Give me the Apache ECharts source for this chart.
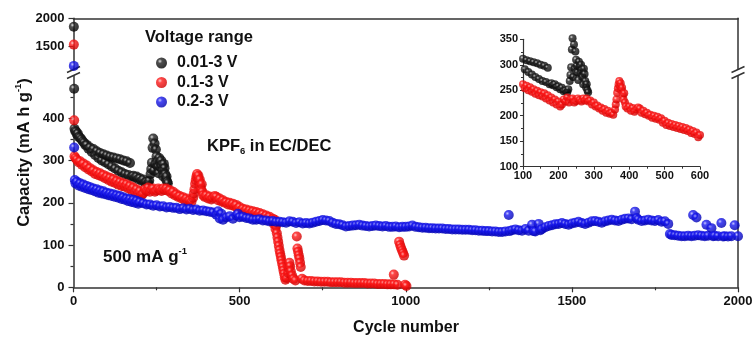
<!DOCTYPE html>
<html><head><meta charset="utf-8">
<script src="https://cdn.jsdelivr.net/npm/echarts@6/dist/echarts.min.js"></script>
<style>html,body{margin:0;padding:0;background:#fff}#c{width:756px;height:338px}</style>
</head><body><div id="c"></div>
<script>
// ---------- DATA ----------
const seriesNames = ['0.01-3 V', '0.1-3 V', '0.2-3 V'];

const blackData = [
[1,1850],[2,470],[3,375],[5,370],[8,368],[10,362],[13,364],[16,356],[20,354],[24,350],[28,345],[32,342],[36,336],[40,337],[45,328],[50,331],[55,320],[60,327],[65,313],[70,322],[75,306],[80,318],[85,300],[90,315],[95,296],[100,312],[105,291],[110,309],[115,286],[120,307],[125,281],[130,305],[135,276],[140,303],[145,272],[150,300],[155,268],[160,298],[165,266],[170,294],[175,262],[180,264],[185,260],[190,262],[195,256],[200,258],[205,252],[210,255],[215,248],[220,250],[225,246],[228,252],[232,268],[234,280],[236,295],[238,330],[240,352],[242,276],[244,340],[246,292],[248,326],[250,310],[252,298],[254,285],[256,270],[258,306],[260,296],[262,284],[264,300],[266,290],[268,276],[270,262],[272,292],[274,282],[276,268],[278,256],[280,262],[282,250],[284,246]
];

const redData = [
[1,1530],[2,395],[3,310],[6,306],[10,302],[15,296],[20,298],[25,290],[30,293],[35,284],[40,288],[45,279],[50,282],[55,274],[60,277],[65,268],[70,273],[75,265],[80,270],[85,262],[90,266],[95,258],[100,262],[105,254],[110,259],[115,250],[120,256],[125,247],[130,252],[135,243],[140,249],[145,240],[150,246],[155,238],[160,244],[165,234],[170,240],[175,230],[180,236],[185,226],[190,232],[195,222],[200,228],[205,218],[210,222],[215,232],[220,228],[225,236],[230,226],[235,232],[240,234],[245,226],[250,229],[255,234],[260,231],[265,228],[270,234],[275,230],[280,234],[285,228],[290,230],[295,222],[300,226],[305,218],[310,220],[315,214],[320,216],[325,210],[330,213],[335,206],[340,210],[345,204],[350,206],[355,202],[360,212],[362,222],[364,232],[366,245],[368,254],[370,262],[372,268],[374,258],[376,264],[378,250],[380,255],[382,240],[384,232],[386,244],[388,226],[390,218],[395,214],[400,218],[405,210],[410,215],[415,208],[420,212],[425,216],[430,214],[435,206],[440,210],[445,203],[450,206],[455,200],[460,202],[465,196],[470,200],[475,194],[480,198],[485,192],[490,195],[495,186],[500,190],[505,182],[510,186],[515,180],[520,184],[525,178],[530,182],[535,176],[540,180],[545,174],[550,178],[555,172],[560,176],[565,170],[570,173],[575,166],[580,170],[585,164],[590,167],[595,158],[600,162],[603,150],[606,160],[608,138],[610,146],[612,128],[614,118],[616,108],[618,98],[620,88],[622,80],[624,72],[626,64],[628,56],[630,48],[632,40],[634,32],[636,24],[638,18],[642,22],[646,34],[648,46],[650,58],[652,50],[654,38],[658,28],[662,20],[668,16],[672,120],[674,92],[676,84],[678,76],[680,68],[682,58],[684,48],[688,20],[695,16],[705,15],[715,15],[725,14],[735,14],[745,13],[755,13],[765,13],[775,12],[785,12],[795,12],[805,12],[815,11],[825,11],[835,11],[845,10],[855,10],[865,10],[875,10],[885,9],[895,9],[905,9],[915,8],[925,8],[935,8],[945,7],[955,7],[964,30],[965,7],[975,6],[980,108],[983,100],[986,93],[989,87],[992,81],[995,75],[998,6],[1002,3]
];

const blueData = [
[1,1150],[2,331],[4,254],[6,246],[10,250],[15,241],[20,246],[25,238],[30,243],[35,235],[40,240],[45,232],[50,237],[55,230],[60,234],[65,227],[70,232],[75,224],[80,229],[85,222],[90,227],[95,220],[100,224],
[105,218],[110,222],[115,216],[120,220],[125,214],[130,218],[135,212],[140,216],[145,209],[150,213],[155,207],[160,210],[165,204],[170,209],[175,202],[180,207],[185,200],[190,205],[195,198],[200,202],
[210,199],[220,196],[230,196],[240,193],[250,194],[260,191],[270,192],[280,189],[290,190],[300,188],
[310,188],[320,185],[330,187],[340,184],[350,186],[360,183],[370,184],[380,181],[390,182],[400,180],
[410,179],[420,177],[430,172],[435,180],[440,163],[445,174],[450,160],[460,165],[470,168],[480,162],[490,170],[495,174],[500,166],
[510,167],[520,164],[530,163],[540,160],[550,160],[560,161],[570,158],[580,158],[590,156],[600,157],
[610,155],[620,155],[630,154],[640,153],[650,156],[660,155],[670,152],[680,154],[690,151],[700,152],
[710,151],[720,153],[730,155],[740,157],[750,159],[760,158],[770,157],[780,153],[790,150],[800,149],
[810,147],[820,144],[830,145],[840,146],[850,147],[860,148],[870,146],[880,145],[890,144],[900,145],
[910,146],[920,145],[930,144],[940,145],[950,143],[960,143],[970,144],[980,142],[990,143],[1000,143],
[1010,144],[1020,146],[1030,143],[1040,142],[1050,141],[1060,141],[1070,140],[1080,140],[1090,139],[1100,139],
[1110,139],[1120,138],[1130,138],[1140,137],[1150,137],[1160,137],[1170,136],[1180,136],[1190,136],[1200,135],
[1210,135],[1220,134],[1230,134],[1240,133],[1250,133],[1260,132],[1270,132],[1280,131],[1290,131],[1300,132],
[1310,171],[1312,133],[1320,135],[1330,137],[1340,135],[1350,134],[1360,138],[1370,134],[1380,148],[1385,133],[1390,132],[1400,150],[1405,135],
[1410,138],[1420,142],[1430,145],[1440,147],[1450,149],[1460,150],[1470,152],[1480,150],[1490,148],[1500,151],
[1510,153],[1520,155],[1530,152],[1540,150],[1550,153],[1560,156],[1570,157],[1580,155],[1590,153],[1600,156],
[1610,158],[1620,160],[1630,158],[1640,157],[1650,160],[1660,162],[1670,163],[1680,161],[1690,179],[1695,164],[1700,160],
[1710,157],[1720,158],[1730,160],[1740,158],[1750,157],[1760,159],[1770,155],[1780,156],[1790,150],[1795,126],
[1800,124],[1810,123],[1820,122],[1830,121],[1840,121],[1850,122],[1860,121],[1865,171],[1870,122],[1875,165],[1880,123],[1890,122],[1900,121],[1905,148],
[1910,122],[1920,140],[1925,121],[1930,122],[1940,121],[1950,152],[1955,120],[1960,121],[1970,120],[1980,121],[1990,147],[2000,121]
];

const xTickLabels = [0, 500, 1000, 1500, 2000];
const yLowLabels = [0, 100, 200, 300, 400];
const yHighLabels = [1500, 2000];

// ---------- STYLE ----------
const FONT = '"Liberation Sans", Arial, sans-serif';
const AX = '#333';
const TXT = '#111';
function ball(hi, c, dark) {
  return new echarts.graphic.RadialGradient(0.36, 0.34, 0.66, [
    {offset: 0, color: hi}, {offset: 0.3, color: c}, {offset: 1, color: dark}
  ]);
}
const fills = [
  ball('#d8d8d8', '#222', '#000'),
  ball('#ffc0c0', '#ff1a1a', '#d00000'),
  ball('#b8b8ff', '#1818f0', '#0000b0')
];
const datas = [blackData, redData, blueData];
const plain = v => String(v);

const lineStyle = {color: AX, width: 1.5};
const lbl = {fontSize: 13, fontWeight: 'bold', color: TXT, fontFamily: FONT, formatter: plain};

const series = [];
datas.forEach((d, i) => series.push({
  type: 'scatter', name: seriesNames[i], xAxisIndex: 0, yAxisIndex: 0, clip: false,
  symbolSize: 10, itemStyle: {color: fills[i]},
  data: d.filter(p => p[1] < 1000)
}));
datas.forEach((d, i) => series.push({
  type: 'scatter', name: seriesNames[i], xAxisIndex: 1, yAxisIndex: 2, clip: false,
  symbolSize: 10, itemStyle: {color: fills[i]},
  data: d.filter(p => p[1] >= 1000)
}));
datas.forEach((d, i) => series.push({
  type: 'scatter', name: seriesNames[i], xAxisIndex: 2, yAxisIndex: 4, clip: false,
  symbolSize: 8, itemStyle: {color: fills[i]},
  data: d.filter(p => p[1] < 1000 && p[0] >= 100 && p[0] <= 600 && i < 2)
}));

const option = {
  animation: false,
  backgroundColor: '#fff',
  grid: [
    {left: 73.5, top: 76, width: 664.5, height: 211.3},
    {left: 73.5, top: 18.3, width: 664.5, height: 50.4},
    {left: 523, top: 39.3, width: 177, height: 127.4}
  ],
  xAxis: [
    {gridIndex: 0, type: 'value', min: 0, max: 2000, interval: 500, position: 'bottom',
     axisLine: {show: true, onZero: false, lineStyle},
     axisTick: {show: true, length: 5, lineStyle: {color: AX, width: 1.2}},
     minorTick: {show: true, splitNumber: 2, length: 3, lineStyle: {color: AX, width: 1.2}},
     axisLabel: Object.assign({margin: 8, customValues: xTickLabels}, lbl),
     splitLine: {show: false}},
    {gridIndex: 1, type: 'value', min: 0, max: 2000, position: 'top',
     axisLine: {show: true, onZero: false, lineStyle},
     axisTick: {show: false}, axisLabel: {show: false}, splitLine: {show: false}},
    {gridIndex: 2, type: 'value', min: 100, max: 600, interval: 100, position: 'bottom',
     axisLine: {show: true, onZero: false, lineStyle: {color: AX, width: 1.2}},
     axisTick: {show: true, length: 3, lineStyle: {color: AX, width: 1}},
     minorTick: {show: true, splitNumber: 2, length: 2, lineStyle: {color: AX, width: 1}},
     axisLabel: {margin: 4, fontSize: 11, fontWeight: 'bold', color: TXT, fontFamily: FONT, formatter: plain},
     splitLine: {show: false}}
  ],
  yAxis: [
    {gridIndex: 0, type: 'value', min: 0, max: 500, interval: 100, position: 'left',
     axisLine: {show: true, onZero: false, lineStyle},
     axisTick: {show: true, length: 5, customValues: yLowLabels, lineStyle: {color: AX, width: 1.2}},
     minorTick: {show: true, splitNumber: 2, length: 3, lineStyle: {color: AX, width: 1.2}},
     axisLabel: Object.assign({margin: 9, customValues: yLowLabels}, lbl),
     splitLine: {show: false}},
    {gridIndex: 0, type: 'value', min: 0, max: 500, position: 'right',
     axisLine: {show: true, onZero: false, lineStyle},
     axisTick: {show: false}, axisLabel: {show: false}, splitLine: {show: false}},
    {gridIndex: 1, type: 'value', min: 1100, max: 2000, position: 'left',
     axisLine: {show: true, onZero: false, lineStyle},
     axisTick: {show: true, length: 5, customValues: yHighLabels, lineStyle: {color: AX, width: 1.2}},
     axisLabel: Object.assign({margin: 9, customValues: yHighLabels}, lbl),
     splitLine: {show: false}},
    {gridIndex: 1, type: 'value', min: 1100, max: 2000, position: 'right',
     axisLine: {show: true, onZero: false, lineStyle},
     axisTick: {show: false}, axisLabel: {show: false}, splitLine: {show: false}},
    {gridIndex: 2, type: 'value', min: 100, max: 350, interval: 50, position: 'left',
     axisLine: {show: true, onZero: false, lineStyle: {color: AX, width: 1.2}},
     axisTick: {show: true, length: 3, lineStyle: {color: AX, width: 1}},
     minorTick: {show: true, splitNumber: 2, length: 2, lineStyle: {color: AX, width: 1}},
     axisLabel: {margin: 5, fontSize: 11, fontWeight: 'bold', color: TXT, fontFamily: FONT, formatter: plain},
     splitLine: {show: false}}
  ],
  legend: {
    show: true, data: seriesNames, orient: 'vertical', left: 151, top: 50,
    icon: 'circle', itemWidth: 11, itemHeight: 11, itemGap: 3.5, selectedMode: false,
    textStyle: {fontSize: 16, fontWeight: 'bold', color: TXT, fontFamily: FONT, padding: [0, 0, 0, 5]}
  },
  graphic: [
    {type: 'text', x: 145, y: 37, style: {text: 'Voltage range', fontSize: 16.5, fontWeight: 'bold', fontFamily: FONT, fill: TXT, verticalAlign: 'middle'}},
    {type: 'text', x: 207, y: 146, style: {
      text: '{a|KPF}{b|6}{a| in EC/DEC}', verticalAlign: 'middle',
      rich: {a: {fontSize: 16.5, fontWeight: 'bold', fontFamily: FONT, fill: TXT, lineHeight: 21},
             b: {fontSize: 9.5, fontWeight: 'bold', fontFamily: FONT, fill: TXT, lineHeight: 9, verticalAlign: 'bottom'}}}},
    {type: 'text', x: 103, y: 257, style: {
      text: '{a|500 mA g}{s|-1}', verticalAlign: 'middle',
      rich: {a: {fontSize: 17, fontWeight: 'bold', fontFamily: FONT, fill: TXT, lineHeight: 21},
             s: {fontSize: 9.5, fontWeight: 'bold', fontFamily: FONT, fill: TXT, lineHeight: 9, verticalAlign: 'top'}}}},
    {type: 'text', x: 24, y: 152.5, rotation: Math.PI / 2, style: {
      text: '{a|Capacity (mA h g}{s|-1}{a|)}', align: 'center', verticalAlign: 'middle',
      rich: {a: {fontSize: 16.5, fontWeight: 'bold', fontFamily: FONT, fill: TXT, lineHeight: 21},
             s: {fontSize: 9.5, fontWeight: 'bold', fontFamily: FONT, fill: TXT, lineHeight: 9, verticalAlign: 'top'}}}},
    {type: 'text', x: 406, y: 328, style: {text: 'Cycle number', fontSize: 16, fontWeight: 'bold', fontFamily: FONT, fill: TXT, align: 'center', verticalAlign: 'middle'}},
    // axis break marks
    {type: 'line', shape: {x1: 67, y1: 72.5, x2: 80, y2: 66.5}, style: {stroke: AX, lineWidth: 1.5}},
    {type: 'line', shape: {x1: 67, y1: 78.5, x2: 80, y2: 72.5}, style: {stroke: AX, lineWidth: 1.5}},
    {type: 'line', shape: {x1: 731.5, y1: 72.5, x2: 744.5, y2: 66.5}, style: {stroke: AX, lineWidth: 1.5}},
    {type: 'line', shape: {x1: 731.5, y1: 78.5, x2: 744.5, y2: 72.5}, style: {stroke: AX, lineWidth: 1.5}}
  ],
  series
};
const chart = echarts.init(document.getElementById('c'), null, {renderer: 'canvas'});
chart.setOption(option);
</script>
</body></html>
